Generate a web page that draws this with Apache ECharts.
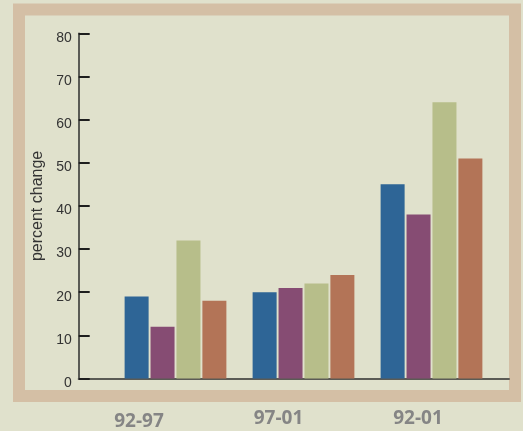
<!DOCTYPE html>
<html><head><meta charset="utf-8">
<script src="https://cdn.jsdelivr.net/npm/echarts@6/dist/echarts.min.js"></script>
<style>html,body{margin:0;padding:0;background:#e0e1cc;}#c{width:523px;height:431px;}</style>
</head><body><div id="c"></div>
<script>
const categories = ['92-97', '97-01', '92-01'];
const seriesBlue = [19, 20, 45];
const seriesPurple = [12, 21, 38];
const seriesGreen = [32, 22, 64];
const seriesOrange = [18, 24, 51];
const yTicks = [0, 10, 20, 30, 40, 50, 60, 70, 80];
const colors = ['#2e6596', '#864c73', '#b7be8a', '#b37457'];

const chart = echarts.init(document.getElementById('c'), null, {renderer: 'canvas'});
const gTop = 33.3, gBottom = 52.5;
function bar(data, color) {
  return {type: 'bar', xAxisIndex: 1, yAxisIndex: 1, data: data, barWidth: 24, barGap: '8%',
    itemStyle: {color: color}};
}
chart.setOption({
  backgroundColor: '#e0e1cc',
  animation: false,
  graphic: {elements: [{type: 'rect', z: -10, silent: true,
    shape: {x: 19, y: 9.5, width: 496, height: 386.5},
    style: {fill: '#e0e1cc', stroke: '#d4bfa5', lineWidth: 12}}]},
  grid: [
    {left: 78.7, right: 14, top: gTop, bottom: gBottom},
    {left: 111.5, width: 384, top: gTop, bottom: gBottom},
    {left: 69.25, width: 418.5, top: gTop, bottom: gBottom}
  ],
  xAxis: [
    {gridIndex: 0, type: 'value', min: 0, max: 1, axisLine: {show: true, onZero: false, lineStyle: {color: '#5b5b55', width: 2}},
      axisTick: {show: false}, axisLabel: {show: false}, splitLine: {show: false}},
    {gridIndex: 1, type: 'category', data: categories, axisLine: {show: false}, axisTick: {show: false},
      axisLabel: {show: false}, splitLine: {show: false}},
    {gridIndex: 2, type: 'category', data: categories.map((c, i) => i === 0 ? {value: c, textStyle: {padding: [3, 0, 0, 0]}} : c),
      axisLine: {show: false}, axisTick: {show: false},
      axisLabel: {show: true, margin: 33, color: '#858585', fontFamily: 'Open Sans', fontWeight: 'bold', fontSize: 19}}
  ],
  yAxis: [
    {gridIndex: 0, type: 'value', min: yTicks[0], max: yTicks[yTicks.length - 1], interval: yTicks[1] - yTicks[0],
      axisLine: {show: true, lineStyle: {color: '#2e2e2e', width: 1.5}},
      axisTick: {show: true, inside: true, length: 11, lineStyle: {color: '#1e1e1e', width: 2}},
      axisLabel: {show: true, margin: 7, color: '#333', fontFamily: "'Liberation Sans Narrow', 'Arial Narrow', 'Liberation Sans', sans-serif", fontSize: 14, verticalAlign: 'top', lineHeight: 9},
      splitLine: {show: false},
      name: 'percent change', nameLocation: 'middle', nameRotate: 90, nameGap: 23,
      nameTextStyle: {color: '#333', fontFamily: "'Liberation Sans', Arial, sans-serif", fontSize: 16}},
    {gridIndex: 1, type: 'value', min: 0, max: 80, show: false},
    {gridIndex: 2, type: 'value', min: 0, max: 80, show: false}
  ],
  series: [
    bar(seriesBlue, colors[0]),
    bar(seriesPurple, colors[1]),
    bar(seriesGreen, colors[2]),
    bar(seriesOrange, colors[3])
  ]
});
</script></body></html>
